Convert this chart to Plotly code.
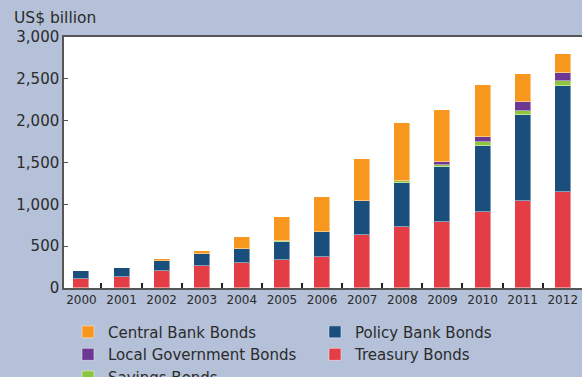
import plotly.graph_objects as go

# Chinese bond market outstanding, by type (US$ billion)
years = ["2000", "2001", "2002", "2003", "2004", "2005", "2006",
         "2007", "2008", "2009", "2010", "2011", "2012"]
treasury = [111, 132, 207, 263, 294, 335, 374, 634, 730, 789, 909, 1040, 1152]
policy_bank = [92, 111, 111, 139, 168, 219, 291, 402, 526, 658, 785, 1029, 1259]
savings = [0, 0, 0, 0, 0, 5, 5, 0, 24, 28, 47, 51, 64]
local_gov = [0, 0, 0, 0, 0, 0, 0, 0, 0, 27, 60, 100, 100]
central_bank = [0, 0, 24, 44, 143, 286, 418, 507, 693, 631, 622, 339, 223]

BG = "#B4C1D8"
TEXT = "#2b2b2b"
FONT = "DejaVu Sans, Verdana, sans-serif"

# stacked bottom-to-top; legendrank sets the legend order
series = [
    ("Treasury Bonds", treasury, "#E43D46", 4),
    ("Policy Bank Bonds", policy_bank, "#1A4E7D", 2),
    ("Savings Bonds", savings, "#8CC63F", 5),
    ("Local Government Bonds", local_gov, "#6D3894", 3),
    ("Central Bank Bonds", central_bank, "#F7971E", 1),
]

fig = go.Figure()
for name, vals, color, rank in series:
    fig.add_trace(go.Bar(
        x=years, y=vals, name=name, legendrank=rank,
        width=0.4,
        marker=dict(color=color, line=dict(color="rgba(255,255,255,0.45)", width=1)),
    ))

fig.update_layout(
    barmode="stack",
    width=582, height=377,
    margin=dict(l=64, r=0, t=37, b=89, autoexpand=False),
    paper_bgcolor=BG,
    plot_bgcolor="white",
    font=dict(family=FONT, color=TEXT),
    bargap=0,
    legend=dict(
        orientation="h",
        x=0.0077, xanchor="left",
        y=-0.11, yanchor="top",
        entrywidth=202, entrywidthmode="pixels",
        font=dict(size=15, family=FONT, color=TEXT),
        bgcolor="rgba(0,0,0,0)",
        traceorder="normal",
    ),
    xaxis=dict(
        type="category",
        range=[-0.434, 12.48],
        tickson="boundaries",
        tickangle=0,
        ticks="inside", ticklen=5, tickwidth=2, tickcolor="#222",
        showline=True, linecolor="#555", linewidth=2, mirror=True,
        tickfont=dict(size=12, family=FONT, color=TEXT),
        showgrid=False,
    ),
    yaxis=dict(
        range=[0, 3000],
        tickvals=[0, 500, 1000, 1500, 2000, 2500, 3000],
        tickformat=",d",
        ticks="inside", ticklen=4, tickwidth=1, tickcolor="#555",
        showline=True, linecolor="#555", linewidth=1.5,
        tickfont=dict(size=15, family=FONT, color=TEXT),
        showgrid=False, zeroline=False,
    ),
    annotations=[dict(
        text="US$ billion", xref="paper", yref="paper",
        x=-64 / 518 + 12 / 518, y=1.0, xanchor="left", yanchor="bottom",
        yshift=8, showarrow=False,
        font=dict(size=15.5, family=FONT, color=TEXT),
    )],
)

fig.write_html("out.html")
